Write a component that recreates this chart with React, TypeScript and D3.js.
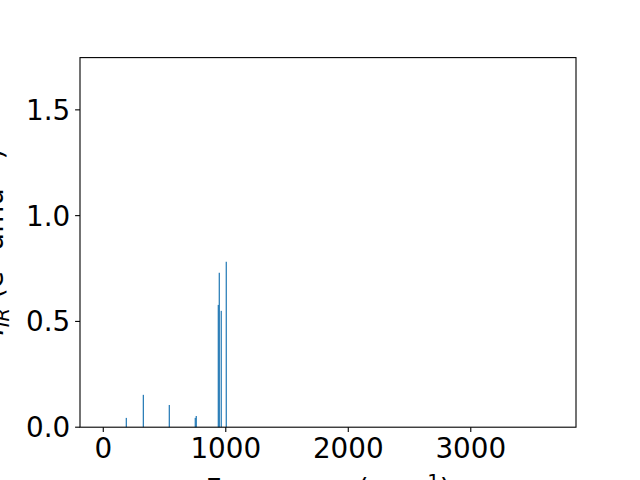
import React from 'react';
import * as d3 from 'd3';

// vibrational frequencies (cm^-1) and IR intensities
const frequencies = [188, 327, 539, 751, 759, 939, 947, 963, 1004];
const intensities = [0.044, 0.153, 0.105, 0.044, 0.053, 0.578, 0.73, 0.55, 0.782];
const xTicks = [0, 1000, 2000, 3000];
const yTicks = [0, 0.5, 1.0, 1.5];

const W = 640;
const H = 480;
const margin = { left: 80, right: 64, top: 57.6, bottom: 52.8 };
const fontSize = 27.8;
const font = 'DejaVu Sans, sans-serif';

export default function App() {
	const width = W - margin.left - margin.right;
	const height = H - margin.top - margin.bottom;

	const xScale = d3.scaleLinear().domain([-190, 3859]).range([0, width]);
	const yScale = d3.scaleLinear().domain([0, 1.747]).range([height, 0]);

	const yFmt = d3.format('.1f');

	return (
		<svg width={W} height={H} style={{ position: 'absolute', left: 0, top: 0, background: '#fff' }}>
			<g transform={'translate(' + margin.left + ',' + margin.top + ')'}>
				{frequencies.map((f, i) => (
					<rect key={i}
						x={xScale(f) - 0.6}
						y={yScale(intensities[i])}
						width={1.2}
						height={height - yScale(intensities[i])}
						fill="#1f77b4" />
				))}
				<rect x={0} y={0} width={width} height={height} fill="none" stroke="#000" strokeWidth={1.1} />
				{xTicks.map(t => (
					<g key={t} transform={'translate(' + xScale(t) + ',' + height + ')'}>
						<line y2={4.9} stroke="#000" strokeWidth={1.1} />
						<text y={9.8 + fontSize * 0.76} textAnchor="middle" fontFamily={font} fontSize={fontSize}>{t}</text>
					</g>
				))}
				{yTicks.map(t => (
					<g key={t} transform={'translate(0,' + yScale(t) + ')'}>
						<line x2={-4.9} stroke="#000" strokeWidth={1.1} />
						<text x={-9.8} dy="0.36em" textAnchor="end" fontFamily={font} fontSize={fontSize}>{yFmt(t)}</text>
					</g>
				))}
			</g>
			<text x={328} y={499} textAnchor="middle" fontFamily={font} fontSize={fontSize}>
				Frequency (cm<tspan dy={-11} fontSize={fontSize * 0.7}>−1</tspan><tspan dy={11}>)</tspan>
			</text>
			<text transform="translate(3,242) rotate(-90)" textAnchor="middle" fontFamily={font} fontSize={fontSize}>
				<tspan fontStyle="italic">I</tspan>
				<tspan dy={6} fontSize={fontSize * 0.7} fontStyle="italic">IR</tspan>
				<tspan dy={-6}> (e</tspan>
				<tspan dy={-11} fontSize={fontSize * 0.7}>2</tspan>
				<tspan dy={11}> amu</tspan>
				<tspan dy={-11} fontSize={fontSize * 0.7}>−1</tspan>
				<tspan dy={11}>)</tspan>
			</text>
		</svg>
	);
}
